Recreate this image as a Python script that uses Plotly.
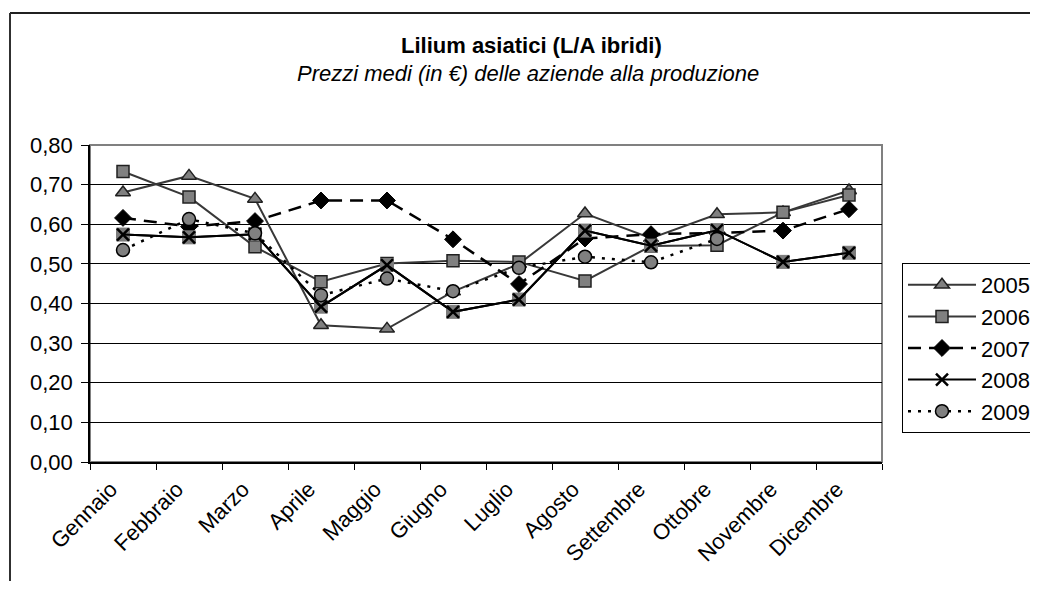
import plotly.graph_objects as go

months = ["Gennaio", "Febbraio", "Marzo", "Aprile", "Maggio", "Giugno",
          "Luglio", "Agosto", "Settembre", "Ottobre", "Novembre", "Dicembre"]

y2005 = [0.680, 0.722, 0.664, 0.345, 0.336, 0.430, 0.500, 0.627, 0.565, 0.625, 0.630, 0.685]
y2006 = [0.733, 0.669, 0.543, 0.455, 0.501, 0.508, 0.505, 0.457, 0.545, 0.547, 0.630, 0.674]
y2007 = [0.616, 0.594, 0.608, 0.660, 0.660, 0.562, 0.449, 0.564, 0.575, 0.578, 0.584, 0.638]
y2008 = [0.574, 0.567, 0.575, 0.392, 0.497, 0.379, 0.410, 0.584, 0.546, 0.585, 0.505, 0.528]
y2009 = [0.535, 0.613, 0.577, 0.421, 0.463, 0.431, 0.490, 0.518, 0.504, 0.563, None, None]

title_text = "Lilium asiatici (L/A ibridi)"
subtitle_text = "Prezzi medi (in €) delle aziende alla produzione"

FONT = "Liberation Sans, Arial, sans-serif"
GRAY = "#808080"
DARK = "#383838"

fig = go.Figure()

fig.add_trace(go.Scatter(
    x=months, y=y2005, name="2005", mode="lines+markers", legendgroup="a",
    line=dict(color=DARK, width=2),
    marker=dict(symbol="triangle-up", size=13, color=GRAY, line=dict(color="#202020", width=1.5)),
))
fig.add_trace(go.Scatter(
    x=months, y=y2006, name="2006", mode="lines+markers", legendgroup="b",
    line=dict(color=DARK, width=2),
    marker=dict(symbol="square", size=12, color=GRAY, line=dict(color="#202020", width=1.5)),
))
fig.add_trace(go.Scatter(
    x=months, y=y2007, name="2007", mode="lines+markers", legendgroup="c",
    line=dict(color="black", width=2.5, dash="13px,8px"),
    marker=dict(symbol="diamond", size=13, color="black", line=dict(color="black", width=1)),
))
fig.add_trace(go.Scatter(
    x=months, y=y2008, name="2008", mode="lines", legendgroup="d", showlegend=False,
    line=dict(color="black", width=2), hoverinfo="skip",
))
fig.add_trace(go.Scatter(
    x=months, y=y2008, name="2008", mode="markers", legendgroup="d", showlegend=False,
    marker=dict(symbol="square", size=13, color="#7c7c7c", line=dict(color="#7c7c7c", width=1)),
    hoverinfo="skip",
))
fig.add_trace(go.Scatter(
    x=months, y=y2008, name="2008", mode="lines+markers", legendgroup="d",
    line=dict(color="black", width=2),
    marker=dict(symbol="x-thin", size=12, color="black", line=dict(color="black", width=2.5)),
))
fig.add_trace(go.Scatter(
    x=months, y=y2009, name="2009", mode="lines+markers", legendgroup="e",
    line=dict(color="black", width=2.5, dash="3px,7px"),
    marker=dict(symbol="circle", size=13, color=GRAY, line=dict(color="black", width=1.5)),
))

# page body has an 8px margin; work in page pixels and convert
OFF = 8
W, H = 1038 - OFF, 589 - 2 * OFF
L, R, T, B = 90 - OFF, 882 - OFF, 145 - OFF, 462 - OFF
pw, ph = R - L, B - T

def px(x):
    return (x - OFF - L) / pw

def py(y):
    return (B - (y - OFF)) / ph

fig.update_layout(
    width=W, height=H,
    margin=dict(l=L, r=W - R, t=T, b=H - B, autoexpand=False),
    paper_bgcolor="white", plot_bgcolor="white",
    separators=",.",
    font=dict(family=FONT, color="black", size=22),
    showlegend=True,
    legend=dict(
        x=px(902), y=py(263), xanchor="left", yanchor="top",
        bordercolor="black", borderwidth=1, bgcolor="white",
        font=dict(family=FONT, size=22, color="black"),
        itemwidth=68, tracegroupgap=3, traceorder="normal",
    ),
    xaxis=dict(
        type="category", categoryorder="array", categoryarray=months,
        tickson="boundaries", ticks="outside", ticklen=6, tickcolor="black", tickwidth=1,
        showline=True, linecolor="black", linewidth=1.5,
        showgrid=False, tickangle=-45, zeroline=False,
        tickfont=dict(family=FONT, size=22, color="black"),
        range=[-0.5, 11.5], ticklabelshift=-12, ticklabelstandoff=4,
    ),
    yaxis=dict(
        range=[0, 0.8], dtick=0.1, tickformat=".2f",
        ticks="outside", ticklen=7, tickcolor="black", tickwidth=1,
        showline=True, linecolor="black", linewidth=1.5,
        showgrid=True, gridcolor="black", gridwidth=1, zeroline=False,
        tickfont=dict(family=FONT, size=22, color="black"),
        ticklabelstandoff=4,
    ),
    shapes=[
        dict(type="rect", xref="paper", yref="paper", x0=0, x1=1, y0=0, y1=1,
             line=dict(color=GRAY, width=2), layer="below"),
        dict(type="line", xref="paper", yref="paper", x0=px(10), x1=px(1100),
             y0=py(13), y1=py(13), line=dict(color="#202020", width=2), layer="above"),
        dict(type="line", xref="paper", yref="paper", x0=px(10), x1=px(10),
             y0=py(13), y1=py(700), line=dict(color="#303030", width=2), layer="above"),
    ],
    annotations=[
        dict(text="<b>" + title_text + "</b>", xref="paper", yref="paper",
             x=px(531), y=py(46), xanchor="center", yanchor="middle", showarrow=False,
             font=dict(family=FONT, size=22, color="black")),
        dict(text="<i>" + subtitle_text + "</i>", xref="paper", yref="paper",
             x=px(528), y=py(73), xanchor="center", yanchor="middle", showarrow=False,
             font=dict(family=FONT, size=22, color="black")),
    ],
)

fig.write_html("out.html")
